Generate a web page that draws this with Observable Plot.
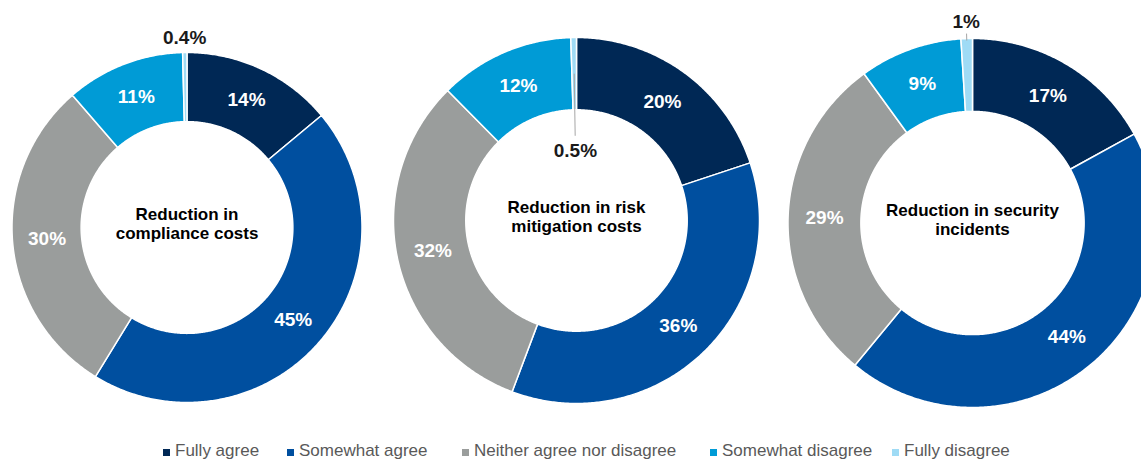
<!DOCTYPE html>
<html><head><meta charset="utf-8">
<script src="https://cdn.jsdelivr.net/npm/d3@7"></script>
<script src="https://cdn.jsdelivr.net/npm/@observablehq/plot@0.6"></script>
<style>
html,body{margin:0;padding:0;background:#fff;overflow:hidden;}
#wrap{position:relative;width:1141px;height:460px;overflow:hidden;}
#legend{position:absolute;left:0;top:440px;width:1141px;height:22px;font-family:"Liberation Sans",Arial,sans-serif;font-size:17px;color:#595959;}
.item{position:absolute;top:0;height:22px;display:flex;align-items:center;white-space:nowrap;}
.sw{width:7px;height:7px;margin-right:5px;margin-top:2px;flex:none;}
</style></head>
<body><div id="wrap"><div id="chart"></div><div id="legend"></div></div>
<script>
// ---- data ----
const categories = ["Fully agree", "Somewhat agree", "Neither agree nor disagree", "Somewhat disagree", "Fully disagree"];
const colors = ["#002855", "#004f9f", "#9a9d9c", "#009bd6", "#9fdbf5"];
const chartTitles = ["Reduction in\ncompliance costs", "Reduction in risk\nmitigation costs", "Reduction in security\nincidents"];
const complianceCosts = [14, 45, 30, 11, 0.4];
const riskMitigationCosts = [20, 36, 32, 12, 0.5];
const securityIncidents = [17, 44, 29, 9, 1];
const series = [complianceCosts, riskMitigationCosts, securityIncidents];

// ---- layout ----
const W = 1141, H = 438;
const donuts = [{cx: 186.5, cy: 227, r: 175}, {cx: 576, cy: 220, r: 183}, {cx: 972, cy: 222.5, r: 184.5}];
const innerRatio = 0.605;
const smallCfg = [
  {labelR: (r, ri) => r + 15, leader: null},
  {labelR: (r, ri) => ri - 41, leader: [(r, ri) => (r + ri) / 2, (r, ri) => ri - 26]},
  {labelR: (r, ri) => r + 17, leader: [(r, ri) => r - 2, (r, ri) => r + 5]}
];
const legendLeft = [163, 287, 462, 710, 892];

const arcs = [], labels = [], leaders = [], titles = [];
series.forEach((vals, i) => {
  const {cx, cy, r} = donuts[i];
  const ri = r * innerRatio;
  const total = d3.sum(vals);
  let acc = 0;
  vals.forEach((v, j) => {
    const a0 = acc / total * 2 * Math.PI; acc += v;
    const a1 = acc / total * 2 * Math.PI;
    const n = Math.max(2, Math.ceil((a1 - a0) / (Math.PI / 360)));
    const id = i + "-" + j;
    const pt = (a, rr) => ({id, category: categories[j], x: cx + rr * Math.sin(a), y: cy - rr * Math.cos(a)});
    for (let k = 0; k <= n; k++) arcs.push(pt(a0 + (a1 - a0) * k / n, r));
    for (let k = n; k >= 0; k--) arcs.push(pt(a0 + (a1 - a0) * k / n, ri));
    const am = (a0 + a1) / 2;
    const small = j === vals.length - 1;
    const lr = small ? smallCfg[i].labelR(r, ri) : (r + ri) / 2;
    labels.push({x: cx + lr * Math.sin(am), y: cy - lr * Math.cos(am), text: v + "%", small});
    if (small && smallCfg[i].leader) {
      const [f1, f2] = smallCfg[i].leader;
      const l1 = f1(r, ri), l2 = f2(r, ri);
      leaders.push({x1: cx + l1 * Math.sin(am), y1: cy - l1 * Math.cos(am), x2: cx + l2 * Math.sin(am), y2: cy - l2 * Math.cos(am)});
    }
  });
  titles.push({x: cx, y: cy - 4, text: chartTitles[i]});
});

const plot = Plot.plot({
  width: W, height: H, margin: 0,
  x: {domain: [0, W], range: [0, W], axis: null},
  y: {domain: [0, H], range: [0, H], axis: null},
  color: {domain: categories, range: colors},
  style: {fontFamily: "'Liberation Sans', Arial, sans-serif", background: "#fff", overflow: "hidden"},
  marks: [
    Plot.line(arcs, {x: "x", y: "y", z: "id", fill: "category", stroke: "white", strokeWidth: 1.5, curve: "linear-closed"}),
    Plot.link(leaders, {x1: "x1", y1: "y1", x2: "x2", y2: "y2", stroke: "#a6a6a6", strokeWidth: 1}),
    Plot.text(labels.filter(d => !d.small), {x: "x", y: "y", text: "text", fill: "white", fontSize: 19, fontWeight: "bold"}),
    Plot.text(labels.filter(d => d.small), {x: "x", y: "y", text: "text", fill: "#1a1a1a", fontSize: 19, fontWeight: "bold"}),
    Plot.text(titles, {x: "x", y: "y", text: "text", fill: "black", fontSize: 17, fontWeight: "bold", lineHeight: 1.12})
  ]
});
document.getElementById("chart").appendChild(plot);

const legend = document.getElementById("legend");
categories.forEach((c, i) => {
  const item = document.createElement("div");
  item.className = "item";
  item.style.left = legendLeft[i] + "px";
  const sw = document.createElement("span");
  sw.className = "sw";
  sw.style.background = colors[i];
  const tx = document.createElement("span");
  tx.textContent = c;
  item.appendChild(sw); item.appendChild(tx);
  legend.appendChild(item);
});
</script></body></html>
